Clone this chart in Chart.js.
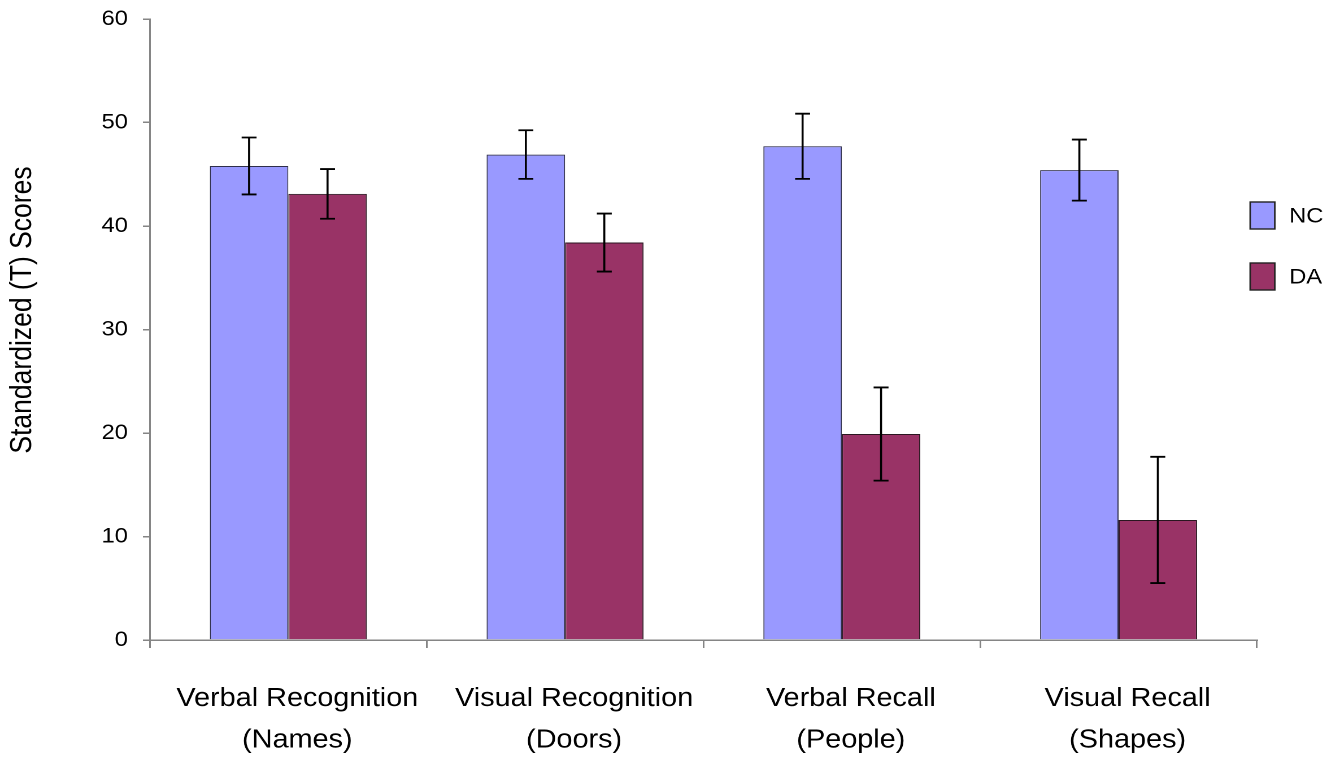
<!DOCTYPE html>
<html>
<head>
<meta charset="utf-8">
<script src="https://cdn.jsdelivr.net/npm/chart.js@4/dist/chart.umd.min.js"></script>
<style>
  html, body { margin: 0; padding: 0; background: #fff; overflow: hidden; }
  /* the figure is laid out on a narrower canvas and widened horizontally */
  #wrap { width: 1186px; height: 757px; transform: scaleX(1.12985); transform-origin: 0 0; }
</style>
</head>
<body>
<div id="wrap"><canvas id="c" width="1186" height="757"></canvas></div>
<script>
const categories = [
  ['Verbal Recognition', '(Names)'],
  ['Visual Recognition', '(Doors)'],
  ['Verbal Recall', '(People)'],
  ['Visual Recall', '(Shapes)']
];
const seriesNames = ['NC', 'DA'];
const ncMeans = [45.8, 46.9, 47.7, 45.4];
const ncErrors = [2.75, 2.35, 3.15, 2.95];
const daMeans = [43.1, 38.4, 19.9, 11.6];
const daErrors = [2.4, 2.8, 4.5, 6.1];
const yAxisTitle = 'Standardized (T) Scores';

const FONT = "'Liberation Sans', Arial, sans-serif";
const AXIS_GREY = '#858585';

// vertical error bars with caps, one per bar
const errorBars = {
  id: 'errorBars',
  afterDatasetsDraw(chart) {
    const ctx = chart.ctx;
    const y = chart.scales.y;
    ctx.save();
    ctx.strokeStyle = '#000';
    ctx.lineWidth = 1.8;
    chart.data.datasets.forEach((ds, i) => {
      const meta = chart.getDatasetMeta(i);
      meta.data.forEach((bar, j) => {
        const v = ds.data[j], e = ds.errors[j];
        const top = y.getPixelForValue(v + e);
        const bot = y.getPixelForValue(v - e);
        const x = bar.x, cap = 6.6;
        ctx.beginPath();
        ctx.moveTo(x, top); ctx.lineTo(x, bot);
        ctx.moveTo(x - cap, top); ctx.lineTo(x + cap, top);
        ctx.moveTo(x - cap, bot); ctx.lineTo(x + cap, bot);
        ctx.stroke();
      });
    });
    ctx.restore();
  }
};

// series key at the right and the rotated value-axis title
const sideText = {
  id: 'sideText',
  afterDraw(chart) {
    const ctx = chart.ctx;
    ctx.save();
    const rows = [215.5, 276.5];
    chart.data.datasets.forEach((ds, i) => {
      const cy = rows[i];
      ctx.fillStyle = ds.backgroundColor;
      ctx.fillRect(1106.5, cy - 13.5, 21.8, 27);
      ctx.strokeStyle = '#222';
      ctx.lineWidth = 1.4;
      ctx.strokeRect(1106.5, cy - 13.5, 21.8, 27);
      ctx.fillStyle = '#000';
      ctx.font = '21px ' + FONT;
      ctx.textAlign = 'left';
      ctx.textBaseline = 'middle';
      ctx.fillText(ds.label, 1141, cy + 1);
    });
    ctx.translate(20, 310);
    ctx.rotate(-Math.PI / 2);
    ctx.font = '26.5px ' + FONT;
    ctx.textAlign = 'center';
    ctx.textBaseline = 'middle';
    ctx.fillStyle = '#000';
    ctx.fillText(yAxisTitle, 0, 0);
    ctx.restore();
  }
};

new Chart(document.getElementById('c'), {
  type: 'bar',
  data: {
    labels: categories,
    datasets: [
      { label: seriesNames[0], data: ncMeans, errors: ncErrors,
        backgroundColor: '#9999FF', borderColor: '#2e2e4a', borderWidth: 1 },
      { label: seriesNames[1], data: daMeans, errors: daErrors,
        backgroundColor: '#993366', borderColor: '#2a1620', borderWidth: 1 }
    ]
  },
  options: {
    responsive: false,
    animation: false,
    devicePixelRatio: 2,
    layout: { padding: { top: 19, right: 73.5, bottom: 0, left: 0 } },
    datasets: { bar: { categoryPercentage: 0.567, barPercentage: 1.0 } },
    plugins: { legend: { display: false }, tooltip: { enabled: false } },
    scales: {
      x: {
        offset: true,
        grid: {
          offset: true,
          drawOnChartArea: false,
          drawTicks: true,
          tickLength: 8,
          lineWidth: 1.5,
          color: (c) => (c.index === categories.length ? 'rgba(0,0,0,0)' : AXIS_GREY)
        },
        border: { display: true, color: AXIS_GREY, width: 1.5 },
        ticks: {
          padding: 30,
          labelOffset: 8,
          maxRotation: 0,
          autoSkip: false,
          color: '#000',
          font: { family: FONT, size: 25.5, lineHeight: 1.63 }
        },
        afterFit(scale) { scale.height = 117; }
      },
      y: {
        min: 0,
        max: 60,
        ticks: {
          stepSize: 10,
          padding: 13.3,
          color: '#000',
          font: { family: FONT, size: 21 }
        },
        grid: {
          drawOnChartArea: false,
          drawTicks: true,
          tickLength: 6.2,
          lineWidth: 1.5,
          color: AXIS_GREY
        },
        border: { display: true, color: AXIS_GREY, width: 1.5 },
        afterFit(scale) {
          scale.width = 132.7;
          scale.paddingTop = 0;
          scale.paddingBottom = 0;
        }
      }
    }
  },
  plugins: [errorBars, sideText]
});
</script>
</body>
</html>
